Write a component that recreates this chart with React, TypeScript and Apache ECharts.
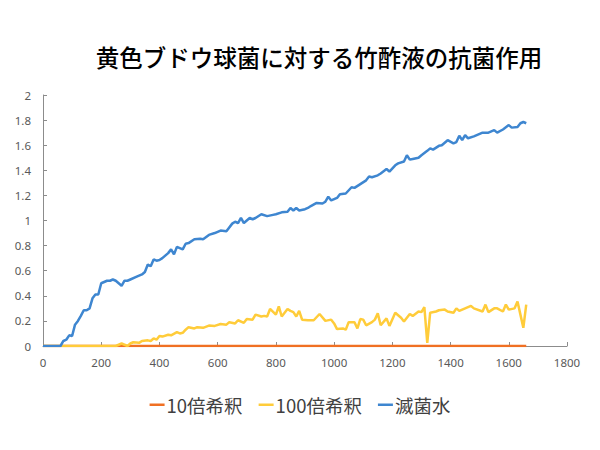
import React, { useEffect, useRef } from "react";
import * as echarts from "echarts";

const titleText = "黄色ブドウ球菌に対する竹酢液の抗菌作用";
const seriesNames = ["10倍希釈", "100倍希釈", "滅菌水"];

const dilution10: number[][] = [
  [0, 0], [300, 0], [600, 0], [900, 0], [1200, 0], [1500, 0], [1660, 0],
];

const dilution100: number[][] = [
  [0, 0], [250, 0], [260, 0.01], [270, 0.02], [280, 0.01], [290, 0], [300, 0.02], [310, 0.03],
  [330, 0.025], [340, 0.04], [360, 0.045], [370, 0.04], [380, 0.06], [390, 0.05], [400, 0.08],
  [410, 0.075], [430, 0.09], [440, 0.085], [460, 0.11], [470, 0.1], [480, 0.105], [490, 0.13],
  [500, 0.15], [520, 0.14], [530, 0.15], [550, 0.145], [570, 0.163], [590, 0.16], [610, 0.175],
  [630, 0.17], [640, 0.19], [660, 0.18], [670, 0.205], [690, 0.185], [700, 0.215], [720, 0.21],
  [730, 0.25], [750, 0.235], [760, 0.24], [770, 0.235], [780, 0.295], [800, 0.25], [810, 0.315],
  [820, 0.235], [840, 0.295], [850, 0.28], [860, 0.27], [870, 0.235], [880, 0.28], [890, 0.21],
  [910, 0.205], [930, 0.205], [950, 0.255], [970, 0.2], [990, 0.21], [1000, 0.18], [1010, 0.135],
  [1030, 0.14], [1040, 0.13], [1050, 0.19], [1070, 0.19], [1080, 0.14], [1090, 0.215], [1100, 0.21],
  [1110, 0.165], [1130, 0.19], [1140, 0.21], [1150, 0.26], [1160, 0.165], [1180, 0.22], [1190, 0.16],
  [1210, 0.265], [1230, 0.225], [1240, 0.195], [1260, 0.255], [1270, 0.24], [1290, 0.275],
  [1300, 0.27], [1310, 0.31], [1320, 0.025], [1330, 0.265], [1350, 0.275], [1360, 0.285],
  [1380, 0.29], [1390, 0.275], [1410, 0.265], [1420, 0.3], [1430, 0.28], [1450, 0.3], [1470, 0.32],
  [1480, 0.3], [1510, 0.275], [1520, 0.33], [1530, 0.27], [1550, 0.3], [1560, 0.3], [1580, 0.275],
  [1590, 0.33], [1600, 0.29], [1620, 0.3], [1630, 0.355], [1640, 0.25], [1650, 0.145], [1660, 0.33],
];

const sterileWater: number[][] = [
  [0, 0], [60, 0], [70, 0.04], [80, 0.05], [90, 0.085], [100, 0.08], [110, 0.17], [120, 0.2],
  [130, 0.24], [140, 0.285], [150, 0.285], [160, 0.3], [170, 0.38], [180, 0.41], [190, 0.41],
  [200, 0.5], [210, 0.51], [220, 0.52], [230, 0.52], [240, 0.53], [250, 0.52], [260, 0.5],
  [270, 0.48], [280, 0.52], [290, 0.52], [300, 0.53], [320, 0.55], [340, 0.57], [350, 0.59],
  [360, 0.65], [370, 0.635], [380, 0.69], [390, 0.68], [400, 0.685], [410, 0.7], [430, 0.74],
  [440, 0.77], [450, 0.73], [460, 0.79], [470, 0.78], [480, 0.77], [490, 0.815], [500, 0.82],
  [520, 0.85], [540, 0.855], [550, 0.85], [570, 0.885], [590, 0.9], [600, 0.91], [610, 0.92],
  [630, 0.915], [650, 0.975], [660, 0.99], [670, 0.98], [680, 1.02], [690, 0.98], [700, 1.0],
  [710, 1.02], [720, 1.01], [730, 1.02], [750, 1.05], [770, 1.035], [790, 1.045], [800, 1.05],
  [820, 1.065], [840, 1.07], [850, 1.1], [860, 1.08], [870, 1.1], [880, 1.08], [900, 1.09],
  [910, 1.1], [920, 1.115], [940, 1.14], [960, 1.135], [970, 1.15], [980, 1.19], [990, 1.16],
  [1010, 1.18], [1020, 1.21], [1040, 1.215], [1060, 1.265], [1070, 1.26], [1090, 1.29],
  [1110, 1.32], [1120, 1.35], [1130, 1.345], [1150, 1.36], [1160, 1.375], [1180, 1.41],
  [1190, 1.39], [1210, 1.44], [1220, 1.455], [1240, 1.47], [1250, 1.52], [1260, 1.485],
  [1270, 1.49], [1290, 1.5], [1300, 1.52], [1320, 1.555], [1330, 1.575], [1340, 1.565],
  [1360, 1.595], [1370, 1.6], [1390, 1.64], [1410, 1.615], [1420, 1.625], [1430, 1.675],
  [1440, 1.64], [1450, 1.68], [1460, 1.655], [1480, 1.67], [1490, 1.68], [1510, 1.7], [1530, 1.7],
  [1540, 1.71], [1550, 1.72], [1560, 1.7], [1580, 1.725], [1600, 1.76], [1610, 1.74], [1630, 1.745],
  [1640, 1.775], [1650, 1.785], [1660, 1.775],
];

const colors = ["#F07023", "#FFCC3A", "#3E86D0"];

export default function App() {
  const ref = useRef<HTMLDivElement>(null);
  useEffect(() => {
    if (!ref.current) return;
    const chart = echarts.init(ref.current, null, { renderer: "svg" });
    const axisColor = "#8C8C8C";
    const labelStyle = { color: "#595959", fontSize: 11.5, fontFamily: "Noto Sans" };
    chart.setOption({
      animation: false,
      backgroundColor: "#ffffff",
      color: colors,
      title: {
        text: titleText,
        left: 314,
        top: 40,
        textAlign: "center",
        textStyle: {
          fontFamily: "Noto Sans CJK JP",
          fontSize: 23.5,
          fontWeight: 500,
          color: "#000000",
        },
      },
      grid: { left: 43, right: 33, top: 95, bottom: 104 },
      legend: {
        bottom: 31,
        left: "center",
        icon: "rect",
        itemWidth: 15,
        itemHeight: 2.5,
        itemGap: 16,
        textStyle: { fontFamily: "Noto Sans CJK JP", fontSize: 18.5, color: "#404040", padding: [0, 0, 0, -3] },
        data: seriesNames,
      },
      xAxis: {
        type: "value",
        min: 0,
        max: 1800,
        interval: 200,
        splitLine: { show: false },
        axisLine: { show: true, lineStyle: { color: axisColor, width: 1 } },
        axisTick: { show: true, inside: true, length: 4, lineStyle: { color: axisColor } },
        axisLabel: { ...labelStyle, margin: 10, formatter: (v: number) => String(v) },
      },
      yAxis: {
        type: "value",
        min: 0,
        max: 2,
        interval: 0.2,
        splitLine: { show: false },
        axisLine: { show: true, lineStyle: { color: axisColor, width: 1 } },
        axisTick: { show: true, inside: true, length: 4, lineStyle: { color: axisColor } },
        axisLabel: { ...labelStyle, margin: 12, formatter: (v: number) => String(Math.round(v * 10) / 10) },
      },
      series: [
        { name: seriesNames[0], type: "line", data: dilution10, showSymbol: false, symbol: "none", lineStyle: { width: 2.5, color: colors[0] }, itemStyle: { color: colors[0] } },
        { name: seriesNames[1], type: "line", data: dilution100, showSymbol: false, symbol: "none", lineStyle: { width: 2.5, color: colors[1] }, itemStyle: { color: colors[1] } },
        { name: seriesNames[2], type: "line", data: sterileWater, showSymbol: false, symbol: "none", lineStyle: { width: 2.5, color: colors[2] }, itemStyle: { color: colors[2] } },
      ],
    });
    return () => chart.dispose();
  }, []);
  return <div ref={ref} style={{ width: 600, height: 450, position: "absolute", left: 0, top: 0 }} />;
}
